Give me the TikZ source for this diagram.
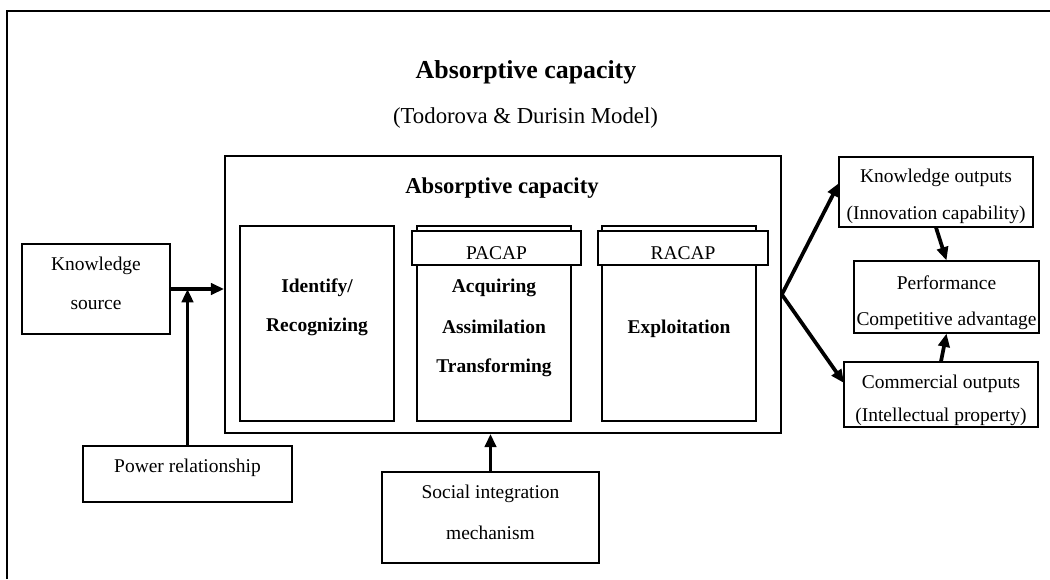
\documentclass[tikz,border=0pt]{standalone}
\usepackage{fontspec}
\setmainfont{Liberation Serif}
\usetikzlibrary{arrows.meta}
\tikzset{
  sz/.style 2 args={minimum width={#1*0.75pt}, minimum height={#2*0.75pt}},
  box/.style={draw, line width=0.8pt, inner sep=0pt, fill=white},
  txt/.style={inner sep=0pt, font=\fontsize{14.6}{17}\selectfont},
  btxt/.style={inner sep=0pt, font=\fontsize{14.6}{17}\selectfont\bfseries},
  arr/.style={line width=2.8pt, -{Triangle[length=10pt,width=8.5pt]}},
}
\begin{document}
\begin{tikzpicture}[x=0.75pt,y=-0.75pt]
\useasboundingbox (0,0) rectangle (1050,579);
\fill[white] (0,0) rectangle (1050,579);
% outer frame
\draw[line width=1.6pt] (7,579) -- (7,11) -- (1050,11);
% titles
\node[inner sep=0pt, font=\fontsize{19.4}{22}\selectfont\bfseries] (title) at (526,72) {Absorptive capacity};
\node[inner sep=0pt, font=\fontsize{17.1}{20}\selectfont] (subtitle) at (525.5,118) {(Todorova \& Durisin Model)};
% main box
\node[box, line width=1.3pt, sz={556}{277}] (main) at (503,294.5) {};
\node[inner sep=0pt, font=\fontsize{17}{20}\selectfont\bfseries] (maintitle) at (502,188) {Absorptive capacity};
% identify column
\node[box, sz={154}{195}] (ident) at (317,323.5) {};
\node[btxt] (identA) at (317,288) {Identify/};
\node[btxt] (identB) at (317,327) {Recognizing};
% PACAP column
\node[box, sz={154}{195}] (pacol) at (494,323.5) {};
\node[box, sz={169}{34}] (patab) at (496.5,248) {};
\node[txt] (palab) at (496.5,253) {PACAP};
\node[btxt] (paA) at (494,288) {Acquiring};
\node[btxt] (paB) at (494,327) {Assimilation};
\node[btxt] (paC) at (494,368) {Transforming};
% RACAP column
\node[box, sz={154}{195}] (racol) at (679,323.5) {};
\node[box, sz={170}{34}] (ratab) at (683,248) {};
\node[txt] (ralab) at (683,253) {RACAP};
\node[btxt] (raA) at (679,329) {Exploitation};
% left boxes
\node[box, sz={148}{90}] (ks) at (96,289) {};
\node[txt] (ksA) at (96,266) {Knowledge};
\node[txt] (ksB) at (96,305) {source};
\node[box, sz={209}{56}] (pw) at (187.5,474) {};
\node[txt] (pwA) at (187.5,468) {Power relationship};
% bottom box
\node[box, sz={217}{91}] (soc) at (490.5,517.5) {};
\node[txt] (socA) at (490.5,494) {Social integration};
\node[txt] (socB) at (490.5,533) {mechanism};
% right boxes
\node[box, sz={194}{70}] (ko) at (936,192) {};
\node[txt] (koA) at (936,178) {Knowledge outputs};
\node[txt] (koB) at (936,215) {(Innovation capability)};
\node[box, sz={185}{72}] (perf) at (946.5,297) {};
\node[txt] (perfA) at (946.5,283) {Performance};
\node[txt] (perfB) at (946.5,321) {Competitive advantage};
\node[box, sz={194}{65}] (com) at (941,394.5) {};
\node[txt] (comA) at (941,384) {Commercial outputs};
\node[txt] (comB) at (941,417) {(Intellectual property)};
% connectors
\coordinate (kotip) at (839,183);
\coordinate (comtip) at (844,383);
\draw[arr] (ks.east) -- (ks.east -| main.west);
\draw[arr] (pw.north) -- (pw.north |- ks.east);
\draw[arr] (soc.north) -- (soc.north |- main.south);
\draw[arr] (main.east) -- (kotip);
\draw[arr] (main.east) -- (comtip);
\draw[arr] (ko.south) -- (perf.north);
\draw[arr] (com.north) -- (perf.south);
\end{tikzpicture}
\end{document}
